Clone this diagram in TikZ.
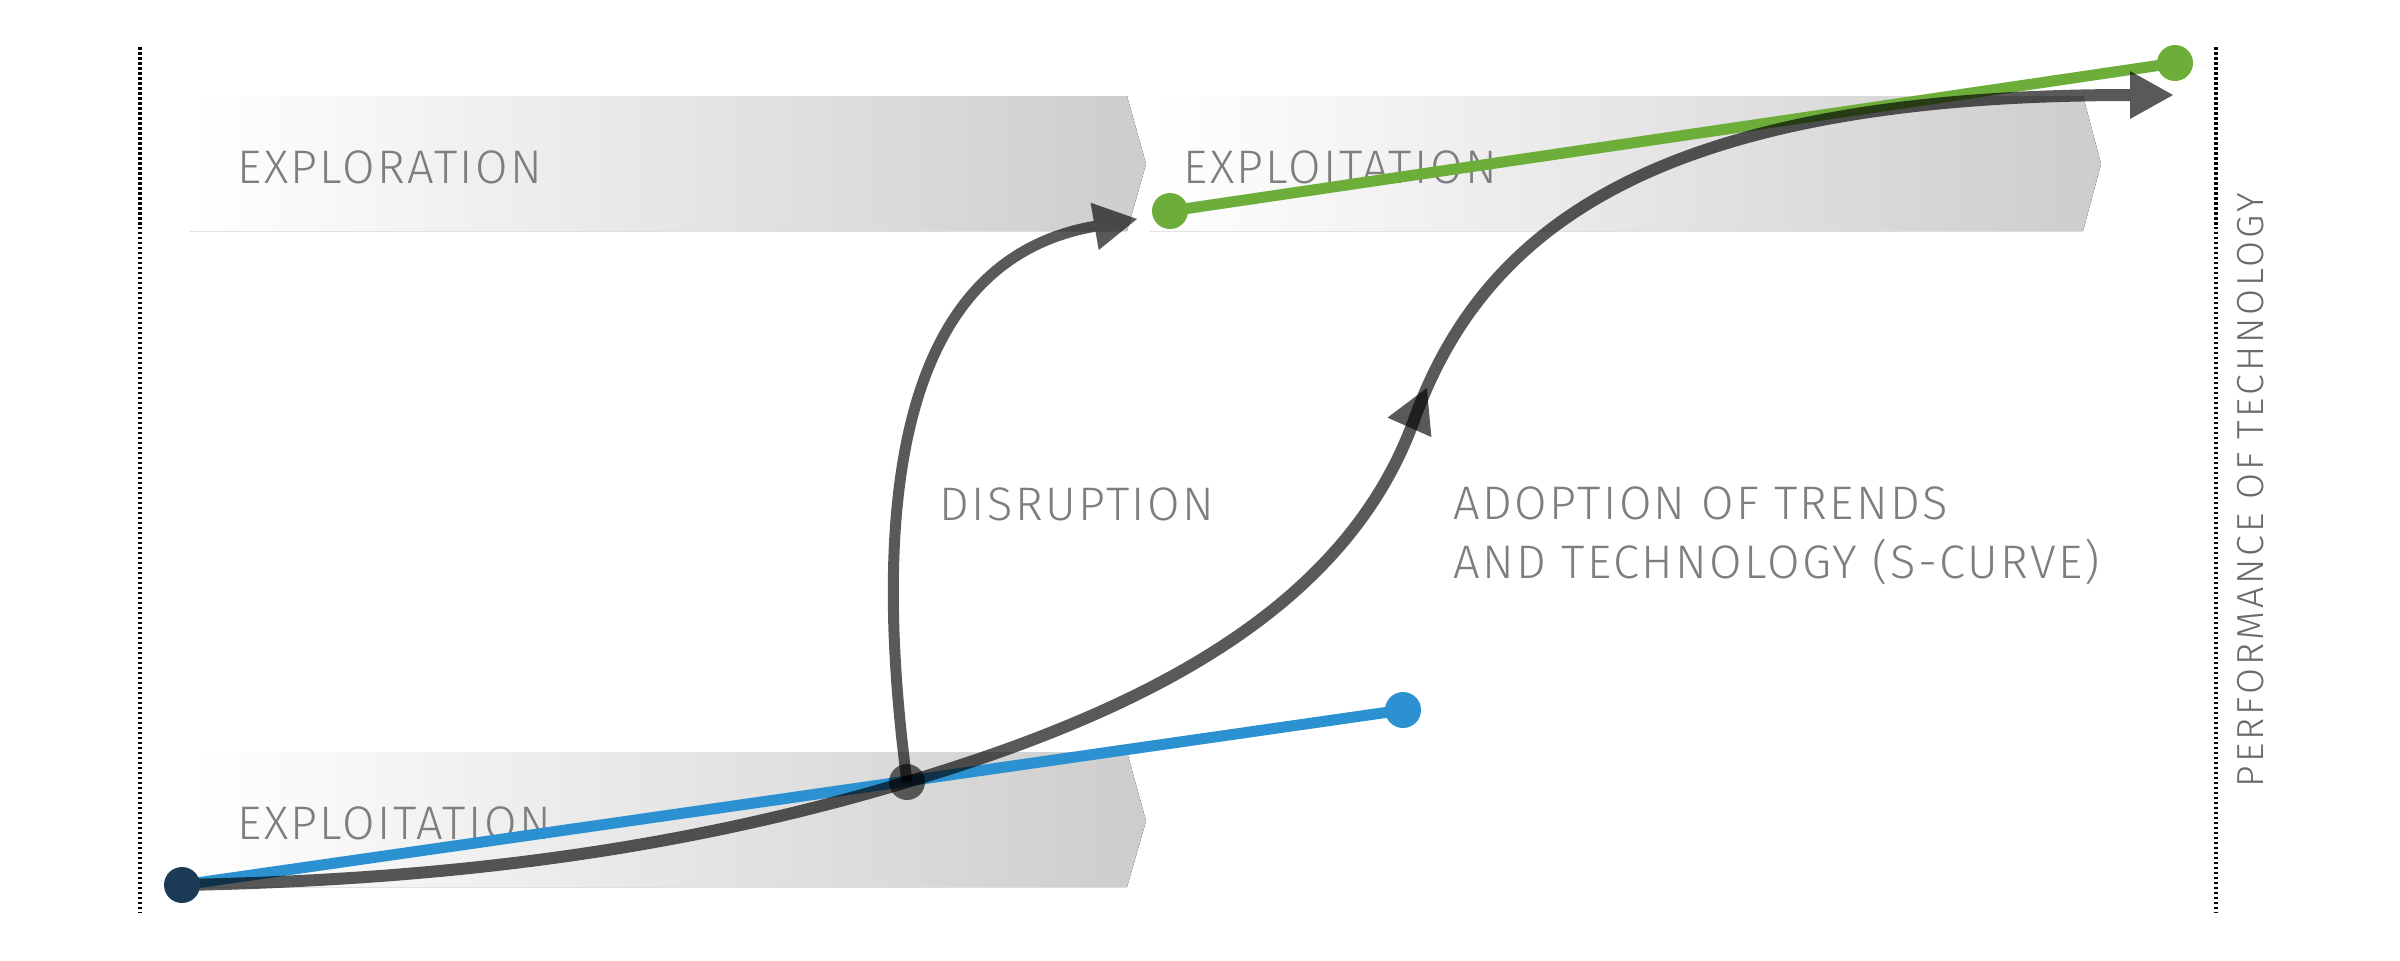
\documentclass[tikz,border=0pt]{standalone}
\usepackage{fontspec}
\newfontfamily\labelfont{Fira Sans Light}[LetterSpace=5]
\newfontfamily\axisfont{Fira Sans Light}[LetterSpace=8]
\usetikzlibrary{arrows.meta,decorations.markings}
\definecolor{bandgray}{HTML}{CDCDCD}
\definecolor{labelgray}{HTML}{7E7E7E}
\definecolor{axisgray}{HTML}{6A6A6A}
\definecolor{techblue}{HTML}{2B91D1}
\definecolor{techgreen}{HTML}{6DAE3A}
\definecolor{startnavy}{HTML}{1B3A56}

\begin{document}
\begin{tikzpicture}[x=0.1mm,y=-0.1mm,
  bandfill/.style={left color=white,right color=bandgray},
  lbl/.style={anchor=base west,inner sep=0pt,text=labelgray,
    font=\labelfont\fontsize{13.4pt}{16pt}\selectfont},
  dot/.style={circle,inner sep=0pt,minimum size=3.6mm},
  headtip/.style={-{Triangle[length=4.3mm,width=4.8mm,line width=0pt]}},
  darkcurve/.style={draw=black,line width=1.2mm,opacity=0.65},
  guide/.style={black,line width=0.33mm,dash pattern=on 0.25mm off 0.25mm}]
  \useasboundingbox (0,0) rectangle (2400,960);

  % guides and bands
  \draw[guide] (140,47) -- (140,913);
  \draw[guide] (2216,47) -- (2216,913);
  \fill[bandfill] (190,96) -- (1127,96) -- (1146,164) -- (1127,231) -- (190,231) -- cycle;
  \fill[bandfill] (1150,96) -- (2083,96) -- (2101,164) -- (2083,231) -- (1150,231) -- cycle;
  \fill[bandfill] (190,752) -- (1127,752) -- (1146,821) -- (1127,887) -- (190,887) -- cycle;

  % labels
  \node[lbl] (explore) at (237,183) {EXPLORATION};
  \node[lbl] (exploitTop) at (1183,183) {EXPLOITATION};
  \node[lbl] (exploitLow) at (237,839) {EXPLOITATION};
  \node[lbl] (disrupt) at (939,520) {DISRUPTION};
  \node[lbl] (adoptA) at (1453,519) {ADOPTION OF TRENDS};
  \node[lbl] (adoptB) at (1453,578) {AND TECHNOLOGY (S-CURVE)};
  \node[lbl,rotate=90,text=axisgray,font=\axisfont\fontsize{10.7pt}{13pt}\selectfont]
    (perf) at (2263,788) {PERFORMANCE OF TECHNOLOGY};

  \coordinate (start) at (182,885);
  \coordinate (shift) at (907,782);
  \coordinate (blueEnd) at (1403,710);
  \coordinate (greenStart) at (1170,211);
  \coordinate (greenEnd) at (2175,63);
  \coordinate (bend) at (1414,420);
  \coordinate (disruptEnd) at (1137,219);
  \coordinate (curveEnd) at (2173,95);

  % technology lines
  \draw[techblue,line width=1.1mm] (start) -- (blueEnd);
  \draw[techgreen,line width=1.1mm] (greenStart) -- (greenEnd);

  % disruption and s-curve
  \draw[darkcurve,line width=1.1mm,headtip] (shift) .. controls (870,500) and (900,260) .. (disruptEnd);
  \draw[darkcurve,headtip,postaction={decorate},
    decoration={markings,mark=at position 0.625 with
      {\arrow{Triangle[length=4.3mm,width=4.8mm,line width=0pt]}}}]
    (start) .. controls (432,880) and (667,854) .. (shift)
    .. controls (1147,710) and (1346,608) .. (bend)
    .. controls (1482,232) and (1650,95) .. (curveEnd);

  % dots
  \node[dot,fill=startnavy] at (start) {};
  \node[dot,fill=black,opacity=0.6] at (shift) {};
  \node[dot,fill=techblue] at (blueEnd) {};
  \node[dot,fill=techgreen] at (greenStart) {};
  \node[dot,fill=techgreen] at (greenEnd) {};
\end{tikzpicture}
\end{document}
